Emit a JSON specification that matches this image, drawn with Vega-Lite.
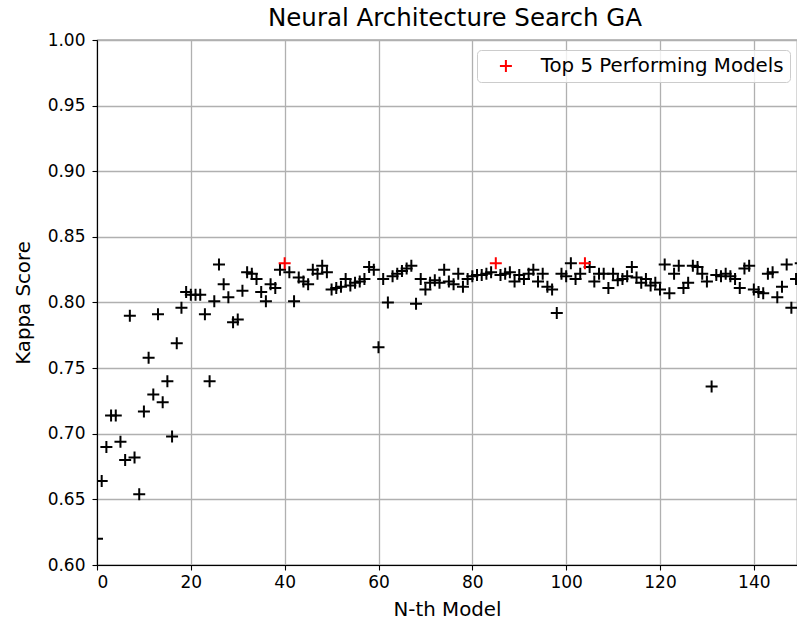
{
  "$schema": "https://vega.github.io/schema/vega-lite/v6.json",
  "width": 700,
  "height": 525,
  "autosize": {"type": "none"},
  "padding": {"left": 97, "top": 40, "right": 0, "bottom": 60},
  "background": "white",
  "config": {
    "font": "DejaVu Sans",
    "view": {"stroke": "black", "strokeWidth": 1.1},
    "axis": {
      "labelFont": "DejaVu Sans", "titleFont": "DejaVu Sans",
      "labelFontSize": 17, "titleFontSize": 19.8, "titleFontWeight": "normal",
      "labelColor": "black", "titleColor": "black",
      "domainColor": "black", "domainWidth": 1.1,
      "tickColor": "black", "tickSize": 5, "tickWidth": 1.1,
      "gridColor": "#b0b0b0", "gridWidth": 1.3, "gridOpacity": 1,
      "labelPadding": 4
    }
  },
  "title": {"text": "Neural Architecture Search GA", "font": "DejaVu Sans", "fontSize": 24.5, "fontWeight": "normal", "color": "black", "offset": 0, "dy": 0, "dx": 8},
  "data": {"values": [
    {"n":0,"k":0.620,"g":"b"},{"n":1,"k":0.664,"g":"b"},{"n":2,"k":0.690,"g":"b"},{"n":3,"k":0.714,"g":"b"},{"n":4,"k":0.714,"g":"b"},
    {"n":5,"k":0.694,"g":"b"},{"n":6,"k":0.680,"g":"b"},{"n":7,"k":0.790,"g":"b"},{"n":8,"k":0.682,"g":"b"},{"n":9,"k":0.654,"g":"b"},
    {"n":10,"k":0.717,"g":"b"},{"n":11,"k":0.758,"g":"b"},{"n":12,"k":0.730,"g":"b"},{"n":13,"k":0.791,"g":"b"},{"n":14,"k":0.724,"g":"b"},
    {"n":15,"k":0.740,"g":"b"},{"n":16,"k":0.698,"g":"b"},{"n":17,"k":0.769,"g":"b"},{"n":18,"k":0.796,"g":"b"},{"n":19,"k":0.808,"g":"b"},
    {"n":20,"k":0.806,"g":"b"},{"n":21,"k":0.806,"g":"b"},{"n":22,"k":0.806,"g":"b"},{"n":23,"k":0.791,"g":"b"},{"n":24,"k":0.740,"g":"b"},
    {"n":25,"k":0.801,"g":"b"},{"n":26,"k":0.829,"g":"b"},{"n":27,"k":0.814,"g":"b"},{"n":28,"k":0.804,"g":"b"},{"n":29,"k":0.785,"g":"b"},
    {"n":30,"k":0.787,"g":"b"},{"n":31,"k":0.809,"g":"b"},{"n":32,"k":0.823,"g":"b"},{"n":33,"k":0.822,"g":"b"},{"n":34,"k":0.818,"g":"b"},
    {"n":35,"k":0.808,"g":"b"},{"n":36,"k":0.801,"g":"b"},{"n":37,"k":0.814,"g":"b"},{"n":38,"k":0.811,"g":"b"},{"n":39,"k":0.825,"g":"b"},
    {"n":40,"k":0.830,"g":"Top 5 Performing Models"},{"n":41,"k":0.823,"g":"b"},{"n":42,"k":0.801,"g":"b"},{"n":43,"k":0.819,"g":"b"},{"n":44,"k":0.816,"g":"b"},
    {"n":45,"k":0.814,"g":"b"},{"n":46,"k":0.825,"g":"b"},{"n":47,"k":0.822,"g":"b"},{"n":48,"k":0.828,"g":"b"},{"n":49,"k":0.823,"g":"b"},
    {"n":50,"k":0.810,"g":"b"},{"n":51,"k":0.811,"g":"b"},{"n":52,"k":0.812,"g":"b"},{"n":53,"k":0.818,"g":"b"},{"n":54,"k":0.813,"g":"b"},
    {"n":55,"k":0.815,"g":"b"},{"n":56,"k":0.816,"g":"b"},{"n":57,"k":0.818,"g":"b"},{"n":58,"k":0.827,"g":"b"},{"n":59,"k":0.825,"g":"b"},
    {"n":60,"k":0.766,"g":"b"},{"n":61,"k":0.818,"g":"b"},{"n":62,"k":0.800,"g":"b"},{"n":63,"k":0.820,"g":"b"},{"n":64,"k":0.822,"g":"b"},
    {"n":65,"k":0.824,"g":"b"},{"n":66,"k":0.826,"g":"b"},{"n":67,"k":0.828,"g":"b"},{"n":68,"k":0.799,"g":"b"},{"n":69,"k":0.818,"g":"b"},
    {"n":70,"k":0.810,"g":"b"},{"n":71,"k":0.815,"g":"b"},{"n":72,"k":0.817,"g":"b"},{"n":73,"k":0.815,"g":"b"},{"n":74,"k":0.825,"g":"b"},
    {"n":75,"k":0.816,"g":"b"},{"n":76,"k":0.814,"g":"b"},{"n":77,"k":0.822,"g":"b"},{"n":78,"k":0.812,"g":"b"},{"n":79,"k":0.818,"g":"b"},
    {"n":80,"k":0.820,"g":"b"},{"n":81,"k":0.821,"g":"b"},{"n":82,"k":0.821,"g":"b"},{"n":83,"k":0.822,"g":"b"},{"n":84,"k":0.823,"g":"b"},
    {"n":85,"k":0.830,"g":"Top 5 Performing Models"},{"n":86,"k":0.821,"g":"b"},{"n":87,"k":0.822,"g":"b"},{"n":88,"k":0.823,"g":"b"},{"n":89,"k":0.816,"g":"b"},
    {"n":90,"k":0.821,"g":"b"},{"n":91,"k":0.818,"g":"b"},{"n":92,"k":0.822,"g":"b"},{"n":93,"k":0.825,"g":"b"},{"n":94,"k":0.816,"g":"b"},
    {"n":95,"k":0.822,"g":"b"},{"n":96,"k":0.812,"g":"b"},{"n":97,"k":0.810,"g":"b"},{"n":98,"k":0.792,"g":"b"},{"n":99,"k":0.822,"g":"b"},
    {"n":100,"k":0.820,"g":"b"},{"n":101,"k":0.830,"g":"b"},{"n":102,"k":0.818,"g":"b"},{"n":103,"k":0.822,"g":"b"},{"n":104,"k":0.830,"g":"Top 5 Performing Models"},
    {"n":105,"k":0.827,"g":"b"},{"n":106,"k":0.816,"g":"b"},{"n":107,"k":0.822,"g":"b"},{"n":108,"k":0.822,"g":"b"},{"n":109,"k":0.811,"g":"b"},
    {"n":110,"k":0.822,"g":"b"},{"n":111,"k":0.817,"g":"b"},{"n":112,"k":0.818,"g":"b"},{"n":113,"k":0.820,"g":"b"},{"n":114,"k":0.827,"g":"b"},
    {"n":115,"k":0.819,"g":"b"},{"n":116,"k":0.815,"g":"b"},{"n":117,"k":0.818,"g":"b"},{"n":118,"k":0.813,"g":"b"},{"n":119,"k":0.815,"g":"b"},
    {"n":120,"k":0.810,"g":"b"},{"n":121,"k":0.829,"g":"b"},{"n":122,"k":0.807,"g":"b"},{"n":123,"k":0.822,"g":"b"},{"n":124,"k":0.828,"g":"b"},
    {"n":125,"k":0.811,"g":"b"},{"n":126,"k":0.815,"g":"b"},{"n":127,"k":0.828,"g":"b"},{"n":128,"k":0.827,"g":"b"},{"n":129,"k":0.822,"g":"b"},
    {"n":130,"k":0.816,"g":"b"},{"n":131,"k":0.736,"g":"b"},{"n":132,"k":0.821,"g":"b"},{"n":133,"k":0.820,"g":"b"},{"n":134,"k":0.822,"g":"b"},
    {"n":135,"k":0.820,"g":"b"},{"n":136,"k":0.818,"g":"b"},{"n":137,"k":0.811,"g":"b"},{"n":138,"k":0.826,"g":"b"},{"n":139,"k":0.828,"g":"b"},
    {"n":140,"k":0.810,"g":"b"},{"n":141,"k":0.808,"g":"b"},{"n":142,"k":0.807,"g":"b"},{"n":143,"k":0.822,"g":"b"},{"n":144,"k":0.823,"g":"b"},
    {"n":145,"k":0.804,"g":"b"},{"n":146,"k":0.812,"g":"b"},{"n":147,"k":0.829,"g":"b"},{"n":148,"k":0.796,"g":"b"},{"n":149,"k":0.818,"g":"b"},
    {"n":150,"k":0.830,"g":"b"}
  ]},
  "encoding": {
    "x": {"field": "n", "type": "quantitative", "title": "N-th Model",
          "scale": {"domain": [0, 149.2], "nice": false, "zero": false},
          "axis": {"values": [0,20,40,60,80,100,120,140], "titlePadding": 9}},
    "y": {"field": "k", "type": "quantitative", "title": "Kappa Score",
          "scale": {"domain": [0.6, 1.0], "nice": false, "zero": false},
          "axis": {"values": [0.6,0.65,0.7,0.75,0.8,0.85,0.9,0.95,1.0], "format": ".2f", "labelPadding": 7, "titlePadding": 14}}
  },
  "layer": [
    {
      "transform": [{"filter": "datum.g === 'b'"}],
      "mark": {"type": "point", "shape": "M-1,0L1,0M0,-1L0,1", "filled": false, "stroke": "black", "strokeWidth": 2, "size": 144, "opacity": 1, "clip": true}
    },
    {
      "transform": [{"filter": "datum.g !== 'b'"}],
      "mark": {"type": "point", "shape": "M-1,0L1,0M0,-1L0,1", "filled": false, "strokeWidth": 2, "size": 144, "opacity": 1, "clip": true},
      "encoding": {
        "color": {"field": "g", "type": "nominal", "title": null,
                  "scale": {"domain": ["Top 5 Performing Models"], "range": ["#ff0000"]},
                  "legend": {"orient": "none", "legendX": 380, "legendY": 10,
                             "symbolType": "M-1,0L1,0M0,-1L0,1", "symbolSize": 144, "symbolStrokeWidth": 2,
                             "symbolStrokeColor": "#ff0000", "symbolFillColor": "transparent",
                             "symbolOffset": 13, "labelOffset": 25, "labelLimit": 400,
                             "labelFont": "DejaVu Sans", "labelFontSize": 19.8, "labelColor": "black",
                             "padding": 6, "strokeColor": "#cccccc", "fillColor": "rgba(255,255,255,0.8)", "cornerRadius": 4}}
      }
    }
  ]
}
